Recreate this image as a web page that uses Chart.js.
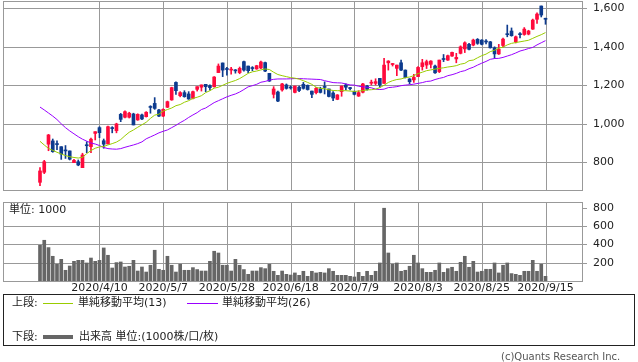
<!DOCTYPE html>
<html lang="ja">
<head>
<meta charset="UTF-8">
<title>株価チャート</title>
<script src="https://cdn.jsdelivr.net/npm/chart.js"></script>
<style>
    body {
        margin: 0;
        width: 638px;
        height: 362px;
        position: relative;
        overflow: hidden;
        background: #fff;
        font-family: "DejaVu Sans", "Noto Sans CJK JP", sans-serif;
        font-size: 11px;
        color: #222;
    }
    canvas { position: absolute; left: 0; }
    #price { top: 0; }
    #volume { top: 200px; }
    .t { position: absolute; line-height: 12px; white-space: nowrap; }
    .ln { position: absolute; }
    .box { position: absolute; left: 3px; top: 294px; width: 630px; height: 50px; border: 1px solid #222; }
</style>
</head>
<body>

<canvas id="price" width="638" height="191"></canvas>
<canvas id="volume" width="638" height="96"></canvas>
<div class="t" style="left:9px; top:204px;">単位: 1000</div>

<div class="box"></div>
<div class="t" style="left:12px; top:297px;">上段:</div>
<div class="ln" style="left:43px; top:303px; width:30px; height:1px; background:#99cc00;"></div>
<div class="t" style="left:78px; top:297px;">単純移動平均(13)</div>
<div class="ln" style="left:187px; top:303px; width:31px; height:1px; background:#9900ff;"></div>
<div class="t" style="left:222px; top:297px;">単純移動平均(26)</div>
<div class="t" style="left:12px; top:331px;">下段:</div>
<div class="ln" style="left:43px; top:335px; width:30px; height:4px; background:#666;"></div>
<div class="t" style="left:79px; top:331px;">出来高 単位:(1000株/口/枚)</div>
<div class="t" style="left:501px; top:351px; color:#555; font-size:10px;">(c)Quants Research Inc.</div>

<script>
// 日付ラベル（日足インデックス）
const tickIdx = [14, 29, 44, 59, 74, 89, 104, 119];
const tickDates = ["2020/4/10", "2020/5/7", "2020/5/28", "2020/6/18", "2020/7/9", "2020/8/3", "2020/8/25", "2020/9/15"];
const priceTicks = [800, 1000, 1200, 1400, 1600];
const volumeTicks = [200, 400, 600, 800];

// 四本値
const open = [696,748,894,911,896,881,862,859,798,803, 772,890,881,950,980,912,895,978,964,1049,
    1034,1034,1051,1020,1046,1037,1087,1106,1072,1040, 1086,1124,1215,1146,1162,1155,1132,1179,1190,1205,
    1198,1193,1266,1316,1284,1279,1277,1266,1323,1300, 1290,1285,1290,1318,1262,1153,1165,1176,1202,1188,
    1163,1190,1205,1200,1170,1162,1181,1191,1181,1160, 1127,1167,1202,1185,1167,1144,1164,1196,1211,1210,
    1236,1210,1317,1308,1288,1317,1279,1233,1228,1245, 1297,1305,1309,1300,1271,1336,1331,1352,1337,1366,
    1389,1413,1409,1439,1435,1427,1426,1395,1363,1407, 1466,1482,1426,1465,1464,1466,1492,1543,1612,1545];
const high = [772,810,945,921,911,881,887,859,816,812, 847,907,926,959,985,921,988,985,1003,1054,
    1067,1060,1055,1052,1050,1063,1094,1136,1075,1078, 1118,1190,1218,1167,1172,1167,1170,1193,1202,1205,
    1202,1245,1311,1316,1293,1293,1282,1295,1326,1300, 1297,1304,1326,1320,1262,1193,1170,1210,1207,1197,
    1196,1196,1215,1202,1170,1190,1190,1218,1181,1167, 1152,1196,1207,1190,1170,1172,1210,1200,1227,1234,
    1236,1340,1328,1314,1305,1331,1280,1235,1257,1297, 1335,1331,1328,1305,1331,1360,1357,1373,1366,1405,
    1426,1418,1440,1443,1437,1437,1428,1400,1413,1445, 1513,1498,1456,1474,1500,1486,1544,1577,1612,1549];
const low = [678,741,860,852,865,815,820,812,798,782, 772,850,850,916,928,873,895,953,953,1011,
    1030,1030,994,1018,1022,1035,1055,1075,1037,1037, 1084,1122,1153,1140,1138,1127,1129,1170,1170,1167,
    1175,1190,1266,1245,1253,1258,1263,1260,1274,1266, 1276,1283,1286,1271,1220,1134,1115,1170,1180,1180,
    1160,1167,1180,1175,1136,1155,1160,1155,1140,1120, 1125,1143,1176,1176,1150,1142,1160,1175,1202,1202,
    1190,1210,1279,1300,1250,1276,1238,1207,1215,1245, 1279,1287,1290,1262,1266,1323,1329,1350,1317,1363,
    1370,1384,1405,1413,1410,1415,1393,1340,1360,1400, 1452,1455,1420,1446,1460,1462,1490,1522,1555,1517];
const close = [755,803,942,855,892,843,859,816,810,786, 838,886,920,959,954,894,985,975,999,1023,
    1063,1055,994,1049,1025,1060,1085,1080,1040,1075, 1115,1188,1172,1162,1141,1129,1167,1193,1202,1193,
    1188,1243,1300,1279,1282,1281,1275,1288,1279,1276, 1287,1302,1321,1274,1222,1181,1118,1207,1184,1186,
    1196,1173,1184,1178,1153,1184,1163,1189,1142,1134, 1150,1196,1190,1183,1153,1162,1207,1179,1214,1219,
    1202,1305,1326,1311,1305,1279,1240,1219,1241,1293, 1317,1323,1326,1265,1331,1334,1354,1371,1345,1400,
    1421,1387,1435,1418,1413,1425,1395,1363,1387,1440, 1463,1458,1452,1463,1492,1482,1539,1570,1565,1543];

// 単純移動平均（チャートから読み取り）
const ma13 = [909,890,872,862,852,843,835,829,825,822, 826,845,861,873,880,882,890,897,905,918,
    938,956,968,982,995,1008,1028,1045,1050,1066, 1074,1082,1094,1100,1112,1120,1132,1138,1146,1162,
    1172,1185,1190,1200,1210,1218,1225,1235,1248,1262, 1270,1274,1280,1285,1282,1268,1256,1250,1245,1240,
    1237,1232,1224,1215,1205,1190,1184,1182,1177,1173, 1172,1172,1172,1170,1168,1170,1172,1176,1177,1180,
    1188,1200,1215,1224,1230,1233,1240,1243,1250,1261, 1268,1276,1280,1284,1288,1291,1295,1298,1302,1310,
    1314,1328,1331,1343,1354,1362,1375,1382,1393,1398, 1410,1418,1422,1426,1430,1434,1444,1454,1463,1474];
const ma26 = [1087,1072,1056,1040,1022,1000,980,963,948,933, 920,910,900,895,887,877,871,869,868,871,
    878,884,890,897,906,922,932,942,953,961, 968,980,992,1006,1018,1033,1046,1058,1074,1082,
    1096,1110,1120,1130,1140,1148,1155,1165,1178,1192, 1198,1205,1216,1220,1227,1231,1233,1233,1233,1234,
    1235,1235,1234,1233,1232,1231,1230,1224,1219,1214, 1213,1212,1207,1202,1201,1195,1192,1190,1187,1180,
    1178,1180,1188,1190,1193,1198,1201,1203,1206,1210, 1214,1220,1222,1230,1236,1241,1250,1255,1262,1271,
    1276,1286,1294,1305,1315,1324,1335,1339,1340,1345, 1352,1359,1368,1378,1384,1391,1397,1410,1421,1432];

// 出来高（1000株）
const volume = [390,445,365,270,183,237,117,164,215,226, 226,197,251,215,226,361,281,142,201,208,
    153,161,226,109,153,98,172,336,128,117, 270,172,98,183,117,117,146,125,109,109,
    215,325,306,172,172,109,237,172,125,73, 109,109,146,135,183,106,62,109,73,65,
    88,62,106,51,106,88,95,88,135,106, 62,62,62,51,44,95,51,106,62,106,
    197,795,306,183,197,106,117,161,281,197, 135,95,95,117,197,95,135,150,106,204,
    270,150,215,98,106,128,128,197,88,172, 197,81,73,62,106,106,226,106,183,51];

const UP = "#ff0a3c";
const DOWN = "#0d3b8e";
const GRID = "#999999";
const xMin = -8.71, xMax = 127.59;
const tickFont = { family: "DejaVu Sans", size: 11 };

const candleColor = close.map((c, i) => c > open[i] ? UP : DOWN);

// 枠と目盛線（スケールの座標から描く）
const gridPlugin = {
    id: "gridFrame",
    beforeDatasetsDraw(chart, args, opts) {
        const { ctx, chartArea: a, scales } = chart;
        const L = Math.round(a.left), R = Math.round(a.right);
        const T = Math.round(a.top), B = Math.round(a.bottom);
        ctx.save();
        ctx.fillStyle = GRID;
        tickIdx.forEach(v => {
            const px = Math.round(scales.x.getPixelForValue(v));
            ctx.fillRect(px, T, 1, B - T);
        });
        opts.yTicks.forEach(v => {
            const py = Math.round(scales.y.getPixelForValue(v));
            if (opts.skipTop && v === opts.yTicks[opts.yTicks.length - 1]) {
                ctx.fillRect(R, py, 5, 1);
                return;
            }
            ctx.fillRect(L, py, R + 5 - L, 1);
        });
        ctx.fillRect(L, T, R - L + 1, 1);
        ctx.fillRect(L, B, R - L + 1, 1);
        ctx.fillRect(L, T, 1, B - T + 1);
        ctx.fillRect(R, T, 1, B - T + 1);
        ctx.restore();
    }
};

function noPad(s) {
    s.paddingTop = 0;
    s.paddingBottom = 0;
    s.paddingLeft = 0;
    s.paddingRight = 0;
}

function xAxis(showLabels) {
    return {
        type: "linear", min: xMin, max: xMax, offset: false,
        afterBuildTicks: s => { s.ticks = tickIdx.map(v => ({ value: v })); },
        afterFit: s => { s.height = showLabels ? 15 : 0; noPad(s); },
        ticks: {
            display: showLabels, autoSkip: false, maxRotation: 0, padding: 1,
            color: "#222", font: tickFont,
            callback: (v, i) => tickDates[i]
        },
        grid: { display: false, drawTicks: false },
        border: { display: false }
    };
}

function yAxis(min, max, ticks) {
    return {
        position: "right", min: min, max: max,
        afterBuildTicks: s => { s.ticks = ticks.map(v => ({ value: v })); },
        afterFit: s => { s.width = 56; noPad(s); },
        ticks: { padding: 11, color: "#222", font: tickFont, callback: v => v.toLocaleString("en-US") },
        grid: { display: false, drawTicks: false },
        border: { display: false }
    };
}

// 上段：ローソク足と移動平均
new Chart(document.getElementById("price"), {
    type: "bar",
    data: {
        datasets: [
            {
                type: "line", data: ma13.map((v, i) => ({ x: i, y: v })),
                borderColor: "#99cc00", borderWidth: 1, pointRadius: 0, tension: 0, order: 0
            },
            {
                type: "line", data: ma26.map((v, i) => ({ x: i, y: v })),
                borderColor: "#9900ff", borderWidth: 1, pointRadius: 0, tension: 0, order: 0
            },
            {
                data: open.map((o, i) => ({ x: i, y: [o, close[i]] })),
                backgroundColor: candleColor, barThickness: 3, minBarLength: 1, grouped: false, order: 1
            },
            {
                data: low.map((l, i) => ({ x: i, y: [l, high[i]] })),
                backgroundColor: candleColor, barThickness: 1, grouped: false, order: 2
            }
        ]
    },
    options: {
        responsive: false, animation: false, devicePixelRatio: 1, events: [],
        layout: { padding: { left: 3, top: 1, right: 0, bottom: 1 } },
        plugins: {
            legend: { display: false }, tooltip: { enabled: false },
            gridFrame: { yTicks: priceTicks, skipTop: false }
        },
        scales: { x: xAxis(false), y: yAxis(656, 1638, priceTicks) }
    },
    plugins: [gridPlugin]
});

// 下段：出来高
new Chart(document.getElementById("volume"), {
    type: "bar",
    data: {
        datasets: [{
            data: volume.map((v, i) => ({ x: i, y: v })),
            backgroundColor: "#666666", barThickness: 3, grouped: false
        }]
    },
    options: {
        responsive: false, animation: false, devicePixelRatio: 1, events: [],
        layout: { padding: { left: 3, top: 2, right: 0, bottom: 0 } },
        plugins: {
            legend: { display: false }, tooltip: { enabled: false },
            gridFrame: { yTicks: volumeTicks, skipTop: true }
        },
        scales: { x: xAxis(true), y: yAxis(0, 863, volumeTicks) }
    },
    plugins: [gridPlugin]
});
</script>
</body>
</html>
